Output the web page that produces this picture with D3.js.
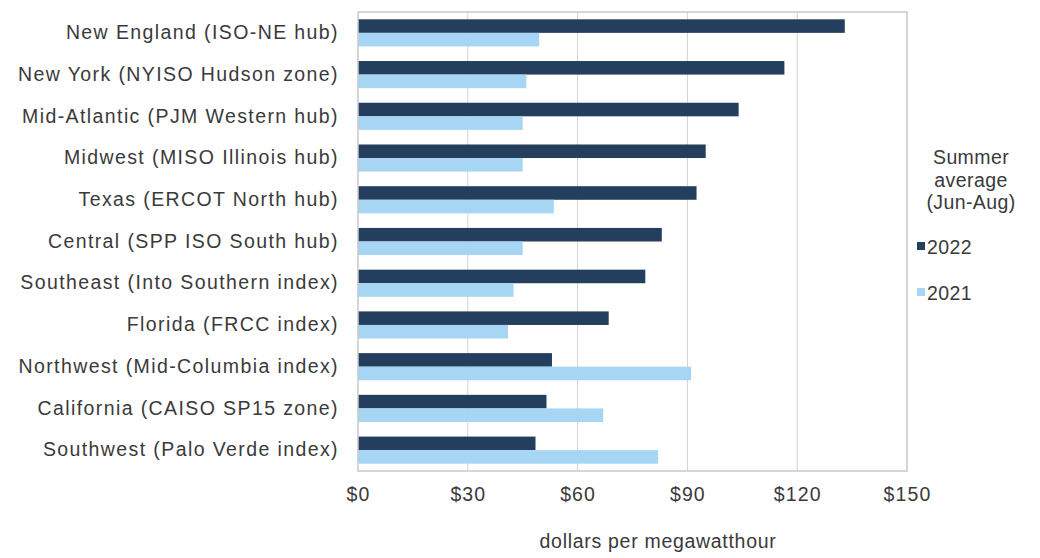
<!DOCTYPE html>
<html>
<head>
<meta charset="utf-8">
<script src="https://cdn.jsdelivr.net/npm/d3@7"></script>
<style>
	body { margin: 0; background: #fff; }
	svg { font-family: 'Liberation Sans', Arial, sans-serif; }
	svg text { letter-spacing: 1.1px; }
	.y-axis text { letter-spacing: 1.4px; }
	.legend text { letter-spacing: 0.4px; }
	.x-title { letter-spacing: 0.7px; }
</style>
</head>
<body>
<main></main>
<script>
const regions = [
	'New England (ISO-NE hub)',
	'New York (NYISO Hudson zone)',
	'Mid-Atlantic (PJM Western hub)',
	'Midwest (MISO Illinois hub)',
	'Texas (ERCOT North hub)',
	'Central (SPP ISO South hub)',
	'Southeast (Into Southern index)',
	'Florida (FRCC index)',
	'Northwest (Mid-Columbia index)',
	'California (CAISO SP15 zone)',
	'Southwest (Palo Verde index)',
]
const years = ['2022', '2021']
const values2022 = [133, 116.5, 104, 95, 92.5, 83, 78.5, 68.5, 53, 51.5, 48.5]
const values2021 = [49.5, 46, 45, 45, 53.5, 45, 42.5, 41, 91, 67, 82]
const xTicks = [0, 30, 60, 90, 120, 150]

const width = 1040
const height = 558
const margin = { top: 12, right: 133, bottom: 87, left: 358 }
const colors = { '2022': '#243f5e', '2021': '#a6d6f4' }
const textColor = '#3a3a3a'
const fontSize = 19.5

const data = regions.map((r, i) => ({ region: r, '2022': values2022[i], '2021': values2021[i] }))

const svg = d3.select('main')
	.append('svg')
	.attr('width', width)
	.attr('height', height)

// Scales
const xScale = d3.scaleLinear()
	.domain([0, 150])
	.range([margin.left, width - margin.right])

const yScale = d3.scaleBand()
	.domain(regions)
	.range([margin.top, height - margin.bottom])
	.paddingInner(0.35)
	.paddingOuter(0.175)

const ySub = d3.scaleBand()
	.domain(years)
	.range([0, yScale.bandwidth()])

// Gridlines
svg.append('g')
	.selectAll('line')
	.data(xTicks.slice(1, -1))
	.enter()
	.append('line')
	.attr('x1', d => xScale(d))
	.attr('x2', d => xScale(d))
	.attr('y1', margin.top)
	.attr('y2', height - margin.bottom)
	.attr('stroke', '#d3d3d3')
	.attr('stroke-width', 1)

// Bars
const groups = svg.append('g')
	.selectAll('g')
	.data(data)
	.enter()
	.append('g')
	.attr('transform', d => `translate(0,${yScale(d.region)})`)

groups.selectAll('rect')
	.data(d => years.map(y => ({ year: y, value: d[y] })))
	.enter()
	.append('rect')
	.attr('x', xScale(0))
	.attr('y', d => ySub(d.year))
	.attr('width', d => xScale(d.value) - xScale(0))
	.attr('height', ySub.bandwidth())
	.attr('fill', d => colors[d.year])

// Plot border
svg.append('rect')
	.attr('x', margin.left)
	.attr('y', margin.top)
	.attr('width', xScale(150) - xScale(0))
	.attr('height', height - margin.bottom - margin.top)
	.attr('fill', 'none')
	.attr('stroke', '#c9c9c9')
	.attr('stroke-width', 1.5)

// Y-Axis labels
const yAxis = d3.axisLeft(yScale).tickSize(0).tickPadding(19)
svg.append('g')
	.attr('class', 'y-axis')
	.attr('transform', `translate(${margin.left}, 0)`)
	.call(yAxis)
	.call(g => g.select('.domain').remove())
	.selectAll('text')
	.attr('font-size', fontSize)
	.attr('fill', textColor)
	.attr('font-family', "'Liberation Sans', Arial, sans-serif")

// X-Axis labels
const xAxis = d3.axisBottom(xScale)
	.tickValues(xTicks)
	.tickSize(0)
	.tickPadding(16)
	.tickFormat(d => '$' + d)
svg.append('g')
	.attr('transform', `translate(0,${height - margin.bottom})`)
	.call(xAxis)
	.call(g => g.select('.domain').remove())
	.selectAll('text')
	.attr('font-size', fontSize)
	.attr('fill', textColor)
	.attr('font-family', "'Liberation Sans', Arial, sans-serif")

svg.append('text')
	.attr('class', 'x-title')
	.attr('x', 658)
	.attr('y', 548)
	.attr('text-anchor', 'middle')
	.attr('font-size', fontSize)
	.attr('fill', textColor)
	.text('dollars per megawatthour')

// Legend
const legend = svg.append('g')
	.attr('class', 'legend')
	.attr('transform', 'translate(971, 0)')

legend.selectAll('text.title')
	.data(['Summer', 'average', '(Jun-Aug)'])
	.enter()
	.append('text')
	.attr('class', 'title')
	.attr('x', 0)
	.attr('y', (d, i) => 164 + i * 22.5)
	.attr('text-anchor', 'middle')
	.attr('font-size', fontSize)
	.attr('fill', textColor)
	.text(d => d)

const items = legend.selectAll('g.item')
	.data(years)
	.enter()
	.append('g')
	.attr('class', 'item')
	.attr('transform', (d, i) => `translate(-54,${247 + i * 46})`)

items.append('rect')
	.attr('x', 0)
	.attr('y', -5)
	.attr('width', 8)
	.attr('height', 8)
	.attr('fill', d => colors[d])

items.append('text')
	.attr('x', 10)
	.attr('y', 7)
	.attr('font-size', fontSize)
	.attr('fill', textColor)
	.text(d => d)
</script>
</body>
</html>
